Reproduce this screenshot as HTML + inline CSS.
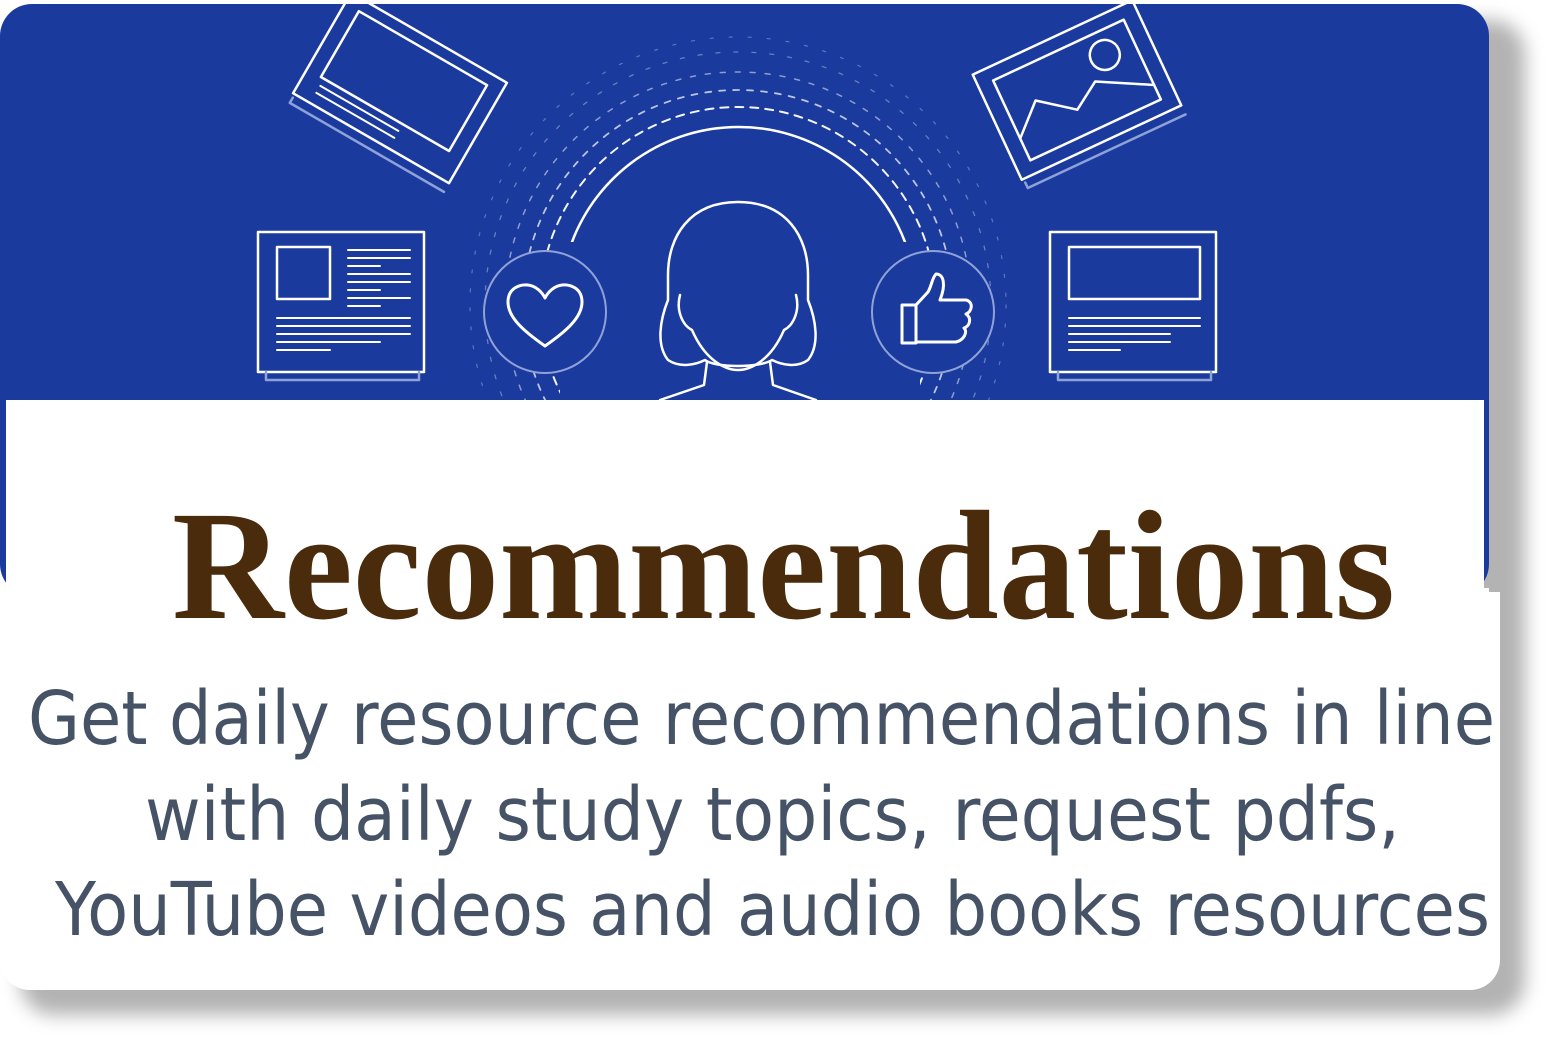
<!DOCTYPE html>
<html><head><meta charset="utf-8"><style>
html,body{margin:0;padding:0;background:#fff;width:1549px;height:1038px;overflow:hidden}
svg{display:block}
</style></head><body>
<svg width="1549" height="1038" viewBox="0 0 1549 1038" xmlns="http://www.w3.org/2000/svg">
<defs>
<filter id="sh" x="-5%" y="-5%" width="115%" height="120%"><feGaussianBlur stdDeviation="9"/></filter>
</defs>
<rect x="20" y="20" width="1505" height="995" rx="34" fill="#9a9a9a" opacity="0.75" filter="url(#sh)"/>
<rect x="0" y="4" width="1489" height="592" rx="32" fill="#1b3a9e"/>
<rect x="6" y="400" width="1478" height="240" fill="#fff"/>
<rect x="0" y="588" width="1500" height="402" rx="30" fill="#fff"/>
<rect x="0" y="588" width="1489" height="40" fill="#fff"/>
<rect x="1470" y="592" width="30" height="40" fill="#fff"/>

<g fill="none" stroke="#fff" stroke-width="2.5" stroke-linecap="round" stroke-linejoin="round">
 <clipPath id="cp"><rect x="0" y="0" width="1489" height="400"/></clipPath>
 <g clip-path="url(#cp)">
 <path d="M572 242 A178 178 0 0 1 905 242"/>
 <circle cx="738" cy="305" r="198" stroke-dasharray="8 7" stroke-width="2" opacity="0.95"/>
 <circle cx="738" cy="305" r="215" stroke-dasharray="6 8" stroke-width="1.8" opacity="0.7"/>
 <circle cx="738" cy="305" r="233" stroke-dasharray="5 10" stroke-width="1.5" opacity="0.5"/>
 <circle cx="738" cy="305" r="253" stroke-dasharray="4 14" stroke-width="1.3" opacity="0.35"/>
 <circle cx="738" cy="305" r="268" stroke-dasharray="3 16" stroke-width="1.2" opacity="0.3"/>
 <rect x="560" y="242" width="360" height="170" fill="#1b3a9e" stroke="none"/>
 <g>
  <path d="M738 202 C690 202 668 236 668 275 L668 300 C660 320 656 345 668 360 C680 368 695 365 705 360 C715 368 760 368 772 360 C782 365 797 368 808 360 C820 345 816 320 808 300 L808 275 C808 236 786 202 738 202 Z"/>
  <path d="M680 295 C676 310 682 325 692 330 C705 360 725 370 738 370 C751 370 771 360 784 330 C794 325 800 310 796 295"/>
  <path d="M707 362 L704 385 L660 400 M770 362 L773 385 L816 400"/>
 </g>
 <circle cx="545" cy="312" r="61" fill="#1b3a9e" stroke="#8fa2d8" stroke-width="2"/>
 <path d="M545 346 C525 332 508 318 508 302 C508 288 520 284 528 285 C536 286 542 292 545 298 C548 292 554 286 562 285 C570 284 582 288 582 302 C582 318 565 332 545 346 Z" stroke-width="3"/>
 <circle cx="933" cy="312" r="61" fill="#1b3a9e" stroke="#8fa2d8" stroke-width="2"/>
 <path d="M902 305 L916 305 L916 343 L902 343 Z M916 305 L928 292 C932 285 932 278 936 274 C944 274 946 285 940 300 L966 300 C974 302 972 312 966 314 C972 318 970 326 964 328 C968 332 964 340 956 342 L916 342" stroke-width="3"/>
 <g>
  <rect x="258" y="232" width="166" height="140"/>
  <path d="M266 372 L266 380 L419 380 L419 372" stroke="#8fa2d8"/>
  <rect x="277" y="247" width="53" height="52"/>
  <path d="M348 250 H410 M348 258 H410 M348 266 H380 M348 274 H410 M348 282 H410 M348 290 H380 M348 298 H410 M348 306 H380 M277 318 H410 M277 326 H410 M277 334 H410 M277 342 H380 M277 350 H330" stroke-width="2"/>
 </g>
 <g>
  <rect x="1050" y="232" width="166" height="140"/>
  <path d="M1058 372 L1058 380 L1211 380 L1211 372" stroke="#8fa2d8"/>
  <rect x="1069" y="247" width="131" height="52"/>
  <path d="M1069 318 H1200 M1069 326 H1200 M1069 334 H1170 M1069 342 H1170 M1069 350 H1120" stroke-width="2"/>
 </g>
 <g transform="translate(400 88) rotate(30)">
  <rect x="-90" y="-58" width="180" height="116"/>
  <rect x="-74" y="-46" width="148" height="76"/>
  <path d="M-88 62 L-88 68 L90 68" stroke="#8fa2d8"/>
  <path d="M-70 38 H20 M-70 46 H20" stroke-width="2"/>
 </g>
 <g transform="translate(1077 90) rotate(-25)">
  <rect x="-88" y="-58" width="176" height="116"/>
  <rect x="-72" y="-44" width="144" height="88"/>
  <circle cx="40" cy="-20" r="15"/>
  <path d="M-72 20 L-42 -8 L-8 18 L20 0 L72 28" />
  <path d="M-86 62 L-86 68 L88 68" stroke="#8fa2d8"/>
 </g>
 </g>
</g>

<text x="172" y="618" textLength="1223" lengthAdjust="spacingAndGlyphs" font-family="'Liberation Serif', serif" font-weight="bold" font-size="156" fill="#4a2c0c">Recommendations</text>
<g font-family="'DejaVu Sans', 'Liberation Sans', sans-serif" font-size="74" fill="#465366">
 <text x="28" y="744" textLength="1467" lengthAdjust="spacingAndGlyphs">Get daily resource recommendations in line</text>
 <text x="145" y="840" textLength="1255" lengthAdjust="spacingAndGlyphs">with daily study topics, request pdfs,</text>
 <text x="55" y="935" textLength="1435" lengthAdjust="spacingAndGlyphs">YouTube videos and audio books resources</text>
</g>
</svg>
</body></html>
